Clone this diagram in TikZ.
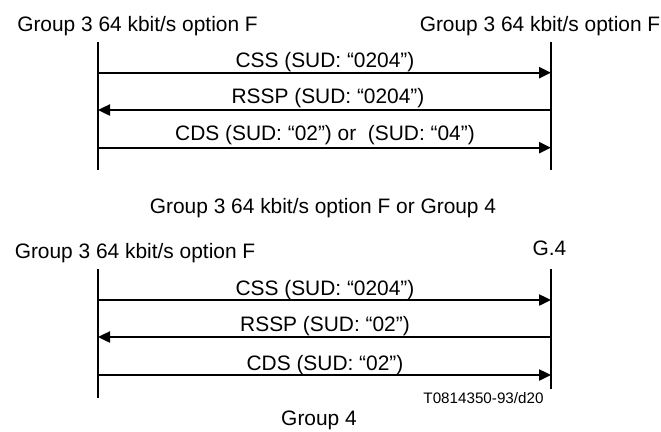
\documentclass[tikz,border=0pt]{standalone}
\usepackage{fontspec}
\setmainfont{Liberation Sans}
\usetikzlibrary{arrows.meta}
\begin{document}
\begin{tikzpicture}[x=1pt,y=-1pt,
  lbl/.style={inner sep=0pt,anchor=base,font=\fontsize{20.9}{25}\selectfont},
  small/.style={inner sep=0pt,anchor=base,font=\fontsize{15.2}{18}\selectfont},
  life/.style={line width=2.4pt},
  msg/.style={line width=2.4pt,-{Triangle[length=12pt,width=11pt]}},
  msgl/.style={line width=2.4pt,{Triangle[length=12pt,width=11pt]}-}]
\useasboundingbox (0,0) rectangle (661,431);
% ---------- upper diagram ----------
\node[lbl] (h1a) at (137.5,31.5) {Group 3 64 kbit/s option F};
\node[lbl] (h1b) at (540,31.5) {Group 3 64 kbit/s option F};
\coordinate (aT) at (98,42);
\coordinate (aB) at (98,170);
\coordinate (bT) at (551,42);
\coordinate (bB) at (551,170);
\draw[life] (aT) -- (aB);
\draw[life] (bT) -- (bB);
\coordinate (m1) at (0,72.7);
\coordinate (m2) at (0,110);
\coordinate (m3) at (0,147.7);
\draw[msg] (aT |- m1) -- (bT |- m1);
\draw[msgl] (aT |- m2) -- (bT |- m2);
\draw[msg] (aT |- m3) -- (bT |- m3);
\node[lbl] (t1) at (325,67.5) {CSS (SUD: “0204”)};
\node[lbl] (t2) at (328,103) {RSSP (SUD: “0204”)};
\node[lbl] (t3) at (325,140) {CDS (SUD: “02”) or\ \ (SUD: “04”)};
\node[lbl] (cap1) at (323,213) {Group 3 64 kbit/s option F or Group 4};
% ---------- lower diagram ----------
\node[lbl] (h2a) at (135,258.3) {Group 3 64 kbit/s option F};
\node[lbl] (h2b) at (549.5,255.7) {G.4};
\coordinate (cT) at (98,269);
\coordinate (cB) at (98,398);
\coordinate (dT) at (551,269);
\coordinate (dB) at (551,389);
\draw[life] (cT) -- (cB);
\draw[life] (dT) -- (dB);
\coordinate (n1) at (0,300);
\coordinate (n2) at (0,337);
\coordinate (n3) at (0,375);
\draw[msg] (cT |- n1) -- (dT |- n1);
\draw[msgl] (cT |- n2) -- (dT |- n2);
\draw[msg] (cT |- n3) -- (dT |- n3);
\node[lbl] (u1) at (325,295) {CSS (SUD: “0204”)};
\node[lbl] (u2) at (325,331.7) {RSSP (SUD: “02”)};
\node[lbl] (u3) at (325,370) {CDS (SUD: “02”)};
\node[small] (ref) at (483.5,403.3) {T0814350-93/d20};
\node[lbl] (cap2) at (319,425) {Group 4};
\end{tikzpicture}
\end{document}
